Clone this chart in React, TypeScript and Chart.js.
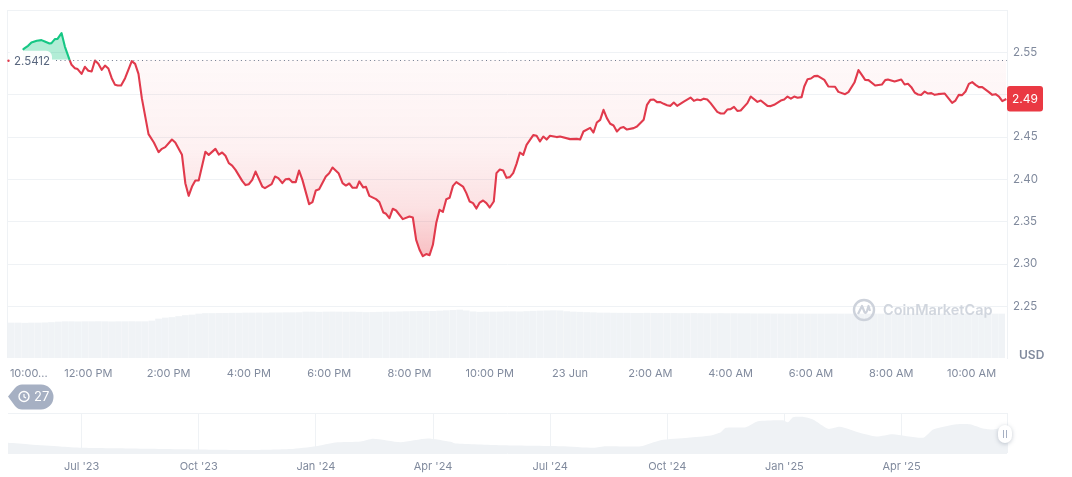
import { useEffect, useRef } from "react"
import { Chart, registerables, type Plugin } from "chart.js"

Chart.register(...registerables)

const FONT = "Inter, 'Noto Sans', sans-serif"
const GRID = "#eff2f5"
const AXIS_TEXT = "#808a9d"
const RED = "#e13a4c"
const GREEN = "#16c784"

const baseline = 2.5412
const baselineLabel = "2.5412"
const fillStartMinute = 190

// minutes since 10:00 AM
const minutes = [
  22, 25, 30, 35, 43, 50, 55, 62, 65, 70, 74, 80, 85, 92, 95, 100, 104, 110, 115, 120, 125, 130, 135, 140, 145, 150,
  155, 160, 164, 169, 175, 185, 190, 195, 200, 210, 218, 225, 230, 235, 245, 250, 260, 265, 270, 275, 280, 285, 295,
  300, 310, 315, 320, 325, 330, 335, 340, 350, 355, 360, 365, 370, 380, 384, 394, 399, 404, 410, 415, 420, 425, 430,
  435, 440, 450, 455, 460, 465, 475, 480, 485, 494, 500, 505, 510, 515, 521, 525, 531, 535, 540, 550, 555, 561, 565,
  570, 575, 580, 590, 600, 605, 610, 615, 620, 625, 630, 635, 640, 645, 650, 655, 660, 665, 670, 680, 685, 690, 695,
  700, 705, 710, 715, 720, 726, 730, 735, 740, 745, 750, 755, 760, 765, 770, 775, 785, 790, 795, 800, 805, 810, 820,
  825, 840, 850, 855, 860, 870, 875, 880, 885, 890, 895, 900, 905, 910, 915, 920, 925, 935, 940, 950, 955, 960, 965,
  970, 975, 980, 985, 990, 995, 1000, 1010, 1020, 1025, 1030, 1035, 1040, 1045, 1050, 1060, 1065, 1070, 1075, 1080,
  1085, 1090, 1095, 1105, 1110, 1120, 1125, 1135, 1140, 1145, 1155, 1160, 1165, 1170, 1175, 1180, 1186, 1190, 1195,
  1200, 1205, 1210, 1220, 1226, 1236, 1241, 1251, 1256, 1265, 1271, 1276, 1281, 1286, 1296, 1306, 1311, 1315, 1325,
  1335, 1340, 1345, 1350, 1355, 1360, 1365, 1370, 1375, 1380, 1385, 1390, 1400, 1411, 1416, 1421, 1426, 1431, 1436,
  1441, 1446, 1451, 1456, 1466, 1471, 1476, 1481, 1486, 1492,
]

const prices = [
  2.553, 2.555, 2.5577, 2.5616, 2.5636, 2.5644, 2.5628, 2.5604, 2.5609, 2.5656, 2.5659, 2.5727, 2.5568, 2.5412, 2.5352,
  2.5313, 2.5302, 2.5246, 2.5329, 2.5282, 2.5273, 2.5403, 2.5364, 2.5293, 2.5344, 2.5309, 2.5195, 2.5116, 2.5108,
  2.5108, 2.5195, 2.5396, 2.5364, 2.5246, 2.4959, 2.4534, 2.4435, 2.4321, 2.436, 2.438, 2.447, 2.4435, 2.4289, 2.3955,
  2.3805, 2.3915, 2.3986, 2.3986, 2.4325, 2.4289, 2.436, 2.4293, 2.4317, 2.4278, 2.4191, 2.4163, 2.4112, 2.3982,
  2.3932, 2.3943, 2.3994, 2.4092, 2.3915, 2.3896, 2.3943, 2.4033, 2.4014, 2.3955, 2.4002, 2.4006, 2.3967, 2.3967,
  2.4104, 2.3994, 2.3707, 2.3731, 2.3868, 2.3884, 2.4033, 2.4073, 2.414, 2.4073, 2.3955, 2.3927, 2.3951, 2.39, 2.39,
  2.3976, 2.3903, 2.3912, 2.3805, 2.3766, 2.3731, 2.3608, 2.3593, 2.3542, 2.3652, 2.3632, 2.353, 2.3561, 2.3549,
  2.3286, 2.3168, 2.3093, 2.3117, 2.3105, 2.3227, 2.3483, 2.364, 2.3616, 2.3766, 2.3782, 2.3923, 2.3967, 2.3915,
  2.3837, 2.3738, 2.3719, 2.3655, 2.3726, 2.375, 2.3719, 2.3667, 2.3738, 2.4073, 2.4116, 2.4104, 2.4018, 2.4026,
  2.4073, 2.4183, 2.4317, 2.4289, 2.4408, 2.4522, 2.4514, 2.4447, 2.4506, 2.447, 2.4514, 2.4499, 2.4506, 2.4475,
  2.4478, 2.447, 2.4565, 2.4608, 2.4553, 2.4671, 2.4703, 2.4821, 2.4723, 2.4656, 2.4636, 2.4565, 2.4605, 2.4617,
  2.4588, 2.4605, 2.4624, 2.4703, 2.488, 2.4939, 2.4943, 2.4912, 2.4912, 2.4892, 2.4876, 2.4868, 2.4907, 2.4868,
  2.4919, 2.4966, 2.4927, 2.4943, 2.4935, 2.4953, 2.4943, 2.49, 2.4797, 2.4777, 2.4777, 2.4824, 2.4829, 2.4856, 2.4809,
  2.4813, 2.49, 2.4978, 2.4915, 2.4931, 2.4868, 2.4865, 2.488, 2.4931, 2.4943, 2.4978, 2.4954, 2.4978, 2.4963, 2.4971,
  2.5096, 2.5183, 2.5191, 2.5219, 2.5222, 2.5175, 2.5096, 2.5093, 2.5033, 2.5006, 2.503, 2.5143, 2.529, 2.5234, 2.5175,
  2.5172, 2.5108, 2.512, 2.5172, 2.5179, 2.5155, 2.5179, 2.512, 2.5128, 2.5089, 2.5025, 2.5002, 2.4998, 2.5037, 2.5013,
  2.5018, 2.4998, 2.5006, 2.5013, 2.4904, 2.4931, 2.4998, 2.4995, 2.5037, 2.5128, 2.5148, 2.5116, 2.5089, 2.5089, 2.503,
  2.4998, 2.5006, 2.4978, 2.4924, 2.4949,
]

// one bar per ten minutes, relative height
const volumes = [
  35, 35, 34.8, 35, 35, 35.2, 35.5, 36, 36.3, 36.3, 36.2, 36.3, 36.3, 36.4, 36.3, 36.2, 36.3, 36.3, 36.4, 36.3, 36.3,
  37, 39, 40, 40.5, 41.5, 42.5, 43, 44, 44.5, 44.5, 44.6, 44.7, 44.8, 44.8, 45, 45, 45.1, 45, 45.2, 45.2, 45.3, 45.3,
  45.4, 46, 46, 45.8, 46, 46.1, 46, 45.9, 46, 45.8, 45.5, 45.6, 45.8, 46, 46, 46.2, 46.4, 46.5, 46.6, 46.7, 46.7, 47,
  47.3, 47.6, 48, 47.2, 46.2, 45.8, 46, 46, 46.1, 46.3, 46.3, 46.2, 46.5, 46.8, 47, 47.2, 47.3, 47.2, 46.4, 46, 45.8,
  45.5, 45.3, 45, 45, 44.9, 44.8, 44.8, 44.7, 44.7, 44.8, 44.7, 44.6, 44.6, 44.6, 44.5, 44.5, 44.6, 44.5, 44.4, 44.4,
  44.5, 44.4, 44.4, 44.3, 44.3, 44.2, 44.2, 44.2, 44.1, 44.1, 44, 44, 44.1, 44, 44, 44, 44, 44.1, 44, 44, 44, 44, 44,
  44, 44, 44, 44.1, 44, 44, 44, 44, 44, 44, 44, 44, 44, 44, 44, 44, 44, 44, 44, 44,
]

const yTickValues = [2.25, 2.3, 2.35, 2.4, 2.45, 2.5, 2.55, 2.6]
const yTickLabels = ["2.25", "2.30", "2.35", "2.40", "2.45", "2.50", "2.55", ""]

const xTickValues = [31, 120, 240, 360, 480, 600, 720, 840, 960, 1080, 1200, 1320, 1440]
const xTickLabels = [
  "10:00...", "12:00 PM", "2:00 PM", "4:00 PM", "6:00 PM", "8:00 PM", "10:00 PM",
  "23 Jun", "2:00 AM", "4:00 AM", "6:00 AM", "8:00 AM", "10:00 AM",
]

const currentPriceLabel = "2.49"

// overview strip: months since Jul '23, relative height
const overviewMonths = [
  -1.885, -1.32, -0.55, 0, 1.24, 3, 4.32, 5.35, 6, 6.5, 7.15, 7.47, 8.17, 8.86, 9.45, 9.58, 10.73, 12.27, 13.12, 13.42,
  14.32, 14.83, 15.53, 16.12, 16.37, 16.5, 17.01, 17.32, 17.96, 18.09, 18.22, 18.47, 18.73, 19.12, 19.42, 19.93, 20.35,
  20.78, 21.55, 21.81, 22.41, 22.75, 23.09, 23.35, 23.7,
]
const overviewValues = [
  10.2, 8.5, 6.5, 5.2, 4.5, 3.5, 3, 4, 6.8, 10.5, 11.5, 14.2, 10.8, 14.5, 11.2, 9.5, 7.8, 6.8, 5.2, 6.8, 6.8, 12.8, 15.2,
  17.5, 20.8, 25.2, 25.8, 31.8, 32.8, 30.8, 35.8, 36.2, 33.5, 24.2, 26.2, 20.2, 16.5, 18.8, 15.2, 23.5, 28.8, 28.8, 24.5,
  23.5, 26.8,
]
const overviewTickValues = [0, 3, 6, 9, 12, 15, 18, 21, 23.7]
const overviewTickLabels = ["Jul '23", "Oct '23", "Jan '24", "Apr '24", "Jul '24", "Oct '24", "Jan '25", "Apr '25", ""]

const overlayPlugin: Plugin<"line"> = {
  id: "priceOverlay",
  afterDatasetsDraw(chart) {
    const { ctx, chartArea, scales } = chart
    const y = scales.y.getPixelForValue(baseline)
    ctx.save()

    // left edge of the plot
    ctx.strokeStyle = GRID
    ctx.lineWidth = 1
    ctx.beginPath()
    ctx.moveTo(chartArea.left - 0.5, chartArea.top)
    ctx.lineTo(chartArea.left - 0.5, chartArea.bottom)
    ctx.stroke()

    // white plate behind the baseline label
    ctx.fillStyle = "rgba(255,255,255,0.94)"
    ctx.beginPath()
    ctx.roundRect(chartArea.left, y - 9, 44, 20, 6)
    ctx.fill()

    // dotted baseline
    ctx.strokeStyle = "#6f7a8e"
    ctx.setLineDash([1, 3.3])
    ctx.beginPath()
    ctx.moveTo(chartArea.left + 48, Math.round(y) + 0.5)
    ctx.lineTo(chartArea.right, Math.round(y) + 0.5)
    ctx.stroke()
    ctx.setLineDash([])

    ctx.fillStyle = RED
    ctx.beginPath()
    ctx.arc(chartArea.left + 0.5, y + 1, 1.2, 0, Math.PI * 2)
    ctx.fill()

    ctx.font = `11.5px ${FONT}`
    ctx.fillStyle = "#58667e"
    ctx.textAlign = "left"
    ctx.textBaseline = "middle"
    ctx.fillText(baselineLabel, chartArea.left + 6, y + 2)

    // current price badge
    const last = scales.y.getPixelForValue(prices[prices.length - 1])
    ctx.fillStyle = "#ea3943"
    ctx.beginPath()
    ctx.roundRect(chartArea.right, last - 13, 36, 25.5, 3)
    ctx.fill()
    ctx.fillStyle = "#fff"
    ctx.textAlign = "center"
    ctx.font = `12px ${FONT}`
    ctx.fillText(currentPriceLabel, chartArea.right + 18, last)

    ctx.restore()
  },
}

function PriceChart() {
  const ref = useRef<HTMLCanvasElement>(null)

  useEffect(() => {
    const canvas = ref.current
    const ctx = canvas?.getContext("2d")
    if (!canvas || !ctx) return

    const redFill = ctx.createLinearGradient(0, 60, 0, 256)
    redFill.addColorStop(0, "rgba(234,57,67,0.03)")
    redFill.addColorStop(0.45, "rgba(234,57,67,0.07)")
    redFill.addColorStop(0.75, "rgba(234,57,67,0.15)")
    redFill.addColorStop(1, "rgba(234,57,67,0.32)")

    const points = minutes.map((x, i) => ({ x, y: prices[i] }))

    const chart = new Chart(ctx, {
      type: "line",
      data: {
        datasets: [
          {
            data: points,
            borderWidth: 2.1,
            borderJoinStyle: "round",
            pointRadius: 0,
            tension: 0,
            fill: false,
            order: 1,
            borderColor: RED,
            segment: {
              borderColor: (c: any) => (c.p0.parsed.y >= baseline && c.p1.parsed.y >= baseline ? GREEN : RED),
            },
          },
          {
            data: points.filter((p) => p.x <= 92),
            borderWidth: 0,
            pointRadius: 0,
            tension: 0,
            order: 2,
            fill: { target: { value: baseline }, above: "rgba(22,199,132,0.33)", below: "rgba(0,0,0,0)" },
          },
          {
            data: points.filter((p) => p.x >= fillStartMinute),
            borderWidth: 0,
            pointRadius: 0,
            tension: 0,
            order: 2,
            fill: { target: { value: baseline }, above: "rgba(0,0,0,0)", below: redFill },
          },
          {
            type: "bar",
            data: volumes.map((v, i) => ({ x: 5 + i * 10, y: v })),
            backgroundColor: "#f0f3f6",
            barThickness: 6,
            yAxisID: "volume",
            order: 3,
          } as any,
        ],
      },
      options: {
        animation: false,
        responsive: false,
        layout: { padding: { left: 8, top: 10, right: 0, bottom: 0 } },
        plugins: { legend: { display: false }, tooltip: { enabled: false } },
        scales: {
          x: {
            type: "linear",
            min: 0,
            max: 1493,
            offset: false,
            grid: { display: false, drawTicks: false },
            border: { display: false },
            afterBuildTicks: (scale) => {
              scale.ticks = xTickValues.map((value) => ({ value }))
            },
            afterFit: (scale) => {
              scale.height = 26
              scale.paddingLeft = 0
              scale.paddingRight = 0
            },
            ticks: {
              autoSkip: false,
              maxRotation: 0,
              padding: 9,
              color: AXIS_TEXT,
              font: { family: FONT, size: 11 },
              callback: (_v, i) => xTickLabels[i],
            },
          },
          y: {
            position: "right",
            min: 2.189,
            max: 2.6,
            grid: { color: GRID, drawTicks: false },
            border: { color: GRID },
            afterBuildTicks: (scale) => {
              scale.ticks = yTickValues.map((value) => ({ value }))
            },
            afterFit: (scale) => {
              scale.width = 65
              scale.paddingTop = 0
              scale.paddingBottom = 0
            },
            ticks: {
              padding: 6,
              color: AXIS_TEXT,
              font: { family: FONT, size: 11.5 },
              callback: (_v, i) => yTickLabels[i],
            },
          },
          volume: { display: false, min: 0, max: 348 },
        },
      },
      plugins: [overlayPlugin],
    })

    return () => chart.destroy()
  }, [])

  return <canvas ref={ref} width={1072} height={384} style={{ position: "absolute", left: 0, top: 0 }} />
}

function OverviewChart() {
  const ref = useRef<HTMLCanvasElement>(null)

  useEffect(() => {
    const ctx = ref.current?.getContext("2d")
    if (!ctx) return

    const chart = new Chart(ctx, {
      type: "line",
      data: {
        datasets: [
          {
            data: overviewMonths.map((x, i) => ({ x, y: overviewValues[i] })),
            borderWidth: 0,
            pointRadius: 0,
            tension: 0.2,
            fill: "origin",
            backgroundColor: GRID,
          },
        ],
      },
      options: {
        animation: false,
        responsive: false,
        layout: { padding: { left: 8, top: 13, right: 65, bottom: 0 } },
        plugins: { legend: { display: false }, tooltip: { enabled: false } },
        scales: {
          x: {
            type: "linear",
            min: -1.885,
            max: 23.7,
            grid: { color: GRID, drawTicks: false },
            border: { display: false },
            afterBuildTicks: (scale) => {
              scale.ticks = overviewTickValues.map((value) => ({ value }))
            },
            afterFit: (scale) => {
              scale.height = 24
              scale.paddingLeft = 0
              scale.paddingRight = 0
            },
            ticks: {
              autoSkip: false,
              maxRotation: 0,
              padding: 7,
              color: AXIS_TEXT,
              font: { family: FONT, size: 11 },
              callback: (_v, i) => overviewTickLabels[i],
            },
          },
          y: {
            display: true,
            min: 0,
            max: 40,
            grid: { color: GRID, drawTicks: false },
            border: { display: false },
            ticks: { display: false, stepSize: 40 },
            afterFit: (scale) => {
              scale.width = 0
            },
          },
        },
      },
    })

    return () => chart.destroy()
  }, [])

  return <canvas ref={ref} width={1072} height={77} style={{ position: "absolute", left: 0, top: 400 }} />
}

export default function App() {
  return (
    <div style={{ position: "absolute", left: 0, top: 0, width: 1072, height: 477, overflow: "hidden", background: "#fff", fontFamily: FONT }}>
      <PriceChart />
      <OverviewChart />

      {/* watermark */}
      <svg width={24} height={24} viewBox="0 0 24 24" style={{ position: "absolute", left: 852, top: 298 }}>
        <circle cx={12} cy={12} r={10} fill="none" stroke="#cdd2db" strokeWidth={2.4} />
        <path d="M6 16 L10 8 L12.5 14 Q14 16 15 13 L16.5 8 L18 13" fill="none" stroke="#cdd2db" strokeWidth={2.2} strokeLinejoin="round" />
      </svg>
      <div style={{ position: "absolute", left: 883, top: 301, fontSize: 14.5, lineHeight: "18px", fontWeight: 600, color: "#d1d6de", whiteSpace: "nowrap" }}>
        CoinMarketCap
      </div>

      <div style={{ position: "absolute", left: 1019, top: 347, fontSize: 12, lineHeight: "15px", fontWeight: 600, color: AXIS_TEXT }}>USD</div>

      {/* history pill */}
      <svg width={48} height={26} viewBox="0 0 48 26" style={{ position: "absolute", left: 7, top: 384 }}>
        <path d="M1 12.5 L8 4 Q11 0.5 15 0.5 L34 0.5 A12.5 12.5 0 0 1 34 25.5 L15 25.5 Q11 25.5 8 22 Z" fill="#a6b0c3" />
        <circle cx={17} cy={12.5} r={5} fill="none" stroke="#fff" strokeWidth={1.4} />
        <path d="M17 10 V12.8 L19 14" fill="none" stroke="#fff" strokeWidth={1.2} />
        <text x={27} y={17} fontSize={13} fill="#fff" fontFamily={FONT}>27</text>
      </svg>

      {/* range handle */}
      <div style={{ position: "absolute", left: 998, top: 425, width: 14, height: 18, borderRadius: 7, background: "#fff", boxShadow: "0 1px 4px rgba(88,102,126,0.35)" }}>
        <div style={{ position: "absolute", left: 5, top: 5, width: 1, height: 8, background: "#a6b0c3" }} />
        <div style={{ position: "absolute", left: 8, top: 5, width: 1, height: 8, background: "#a6b0c3" }} />
      </div>
    </div>
  )
}
